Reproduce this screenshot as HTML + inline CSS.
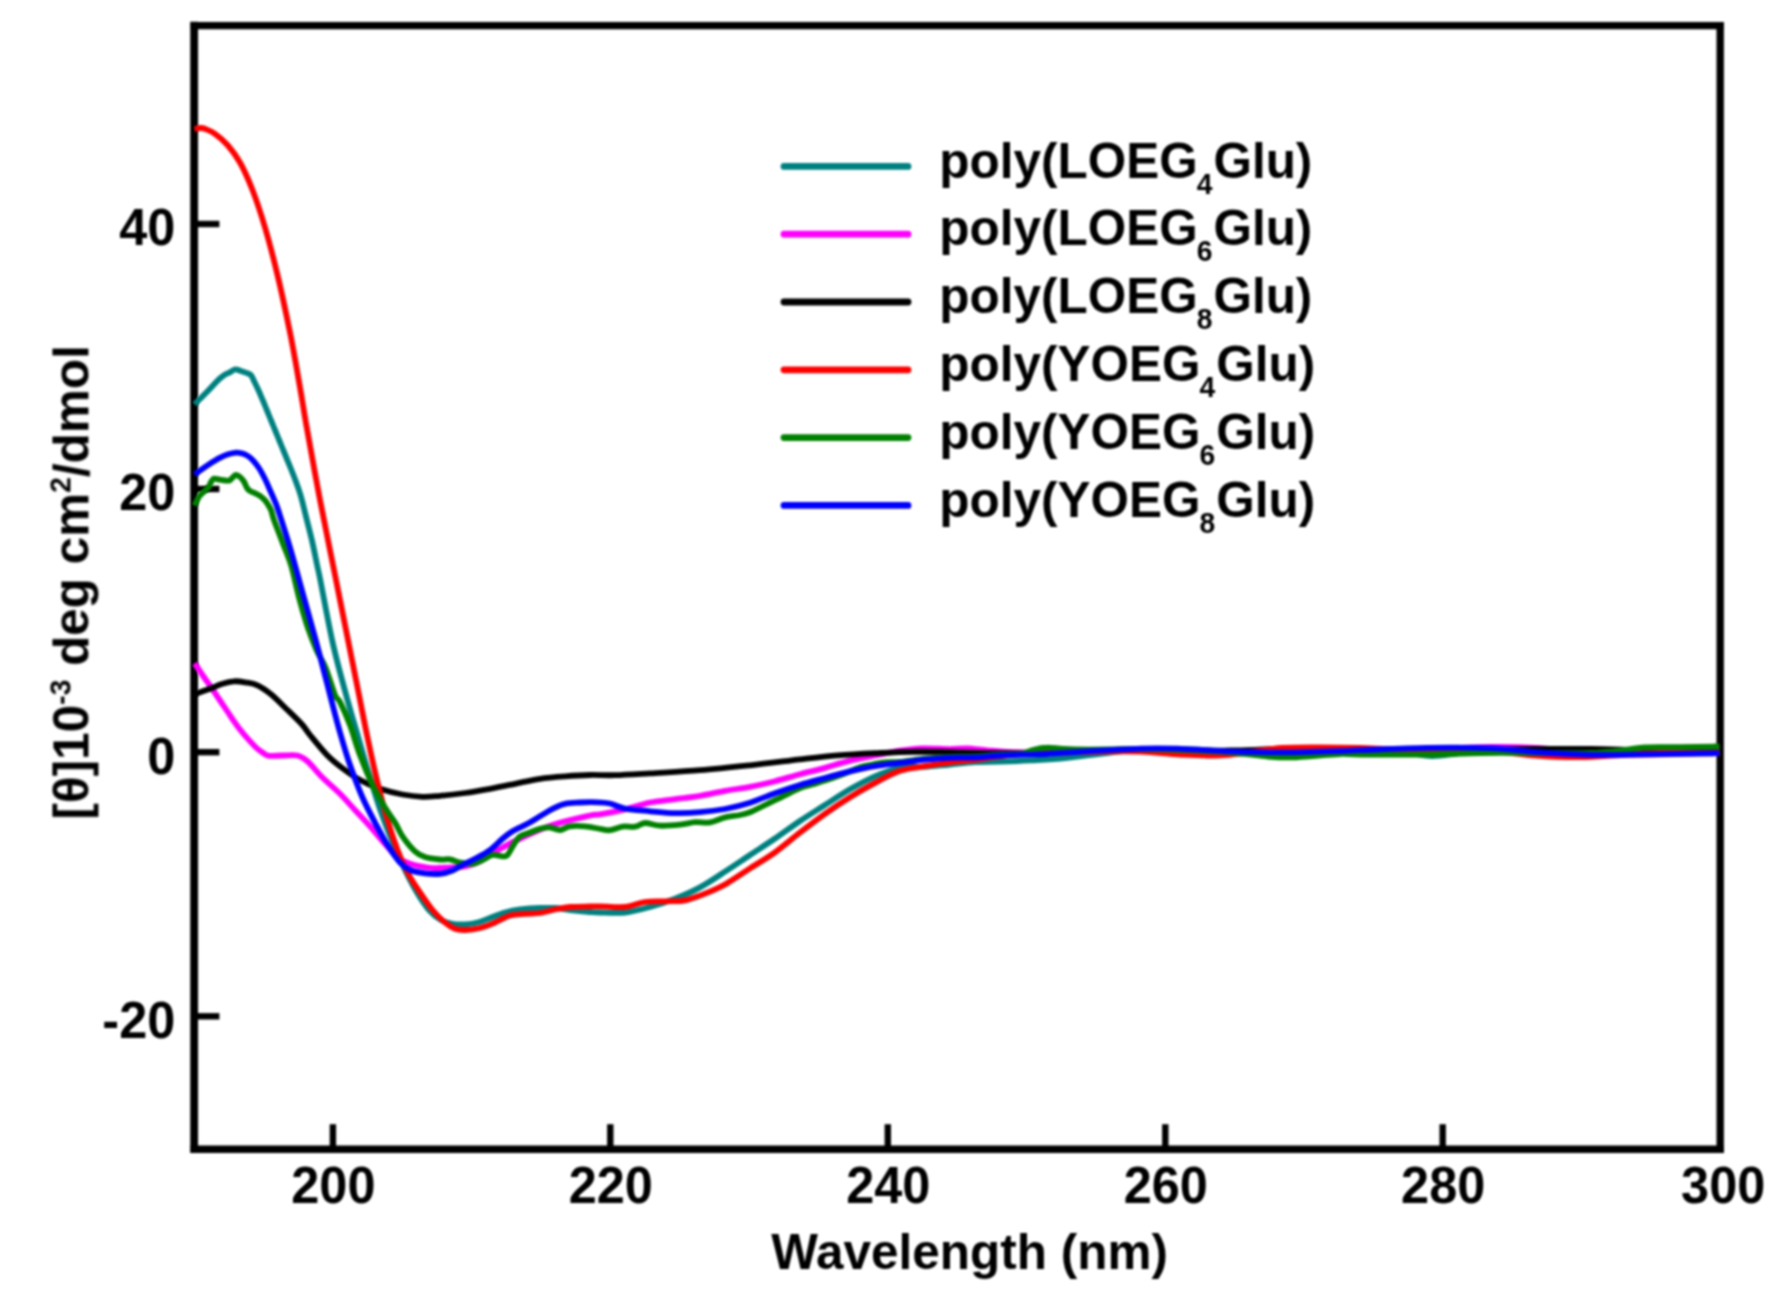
<!DOCTYPE html>
<html lang="en"><head><meta charset="utf-8"><title>CD spectra</title>
<style>
html,body{margin:0;padding:0;background:#fff;}
body{width:1788px;height:1300px;overflow:hidden;}
svg{display:block;}
.bt{filter:blur(1.25px);}
.bc{filter:blur(0.85px);}
text{font-family:"Liberation Sans",sans-serif;font-weight:bold;fill:#000;}
.t{font-size:49px;}
.c{fill:none;stroke-width:5.8;stroke-linejoin:round;stroke-linecap:butt;}
.lg{fill:none;stroke-width:6.8;stroke-linecap:round;}
</style></head><body>
<svg width="1788" height="1300" viewBox="0 0 1788 1300">
<rect x="-10" y="-10" width="1808" height="1320" fill="#fff"/>
<g class="bt">
<g stroke="#000" stroke-linecap="square"><line x1="194.15" y1="25.6" x2="194.15" y2="1149.2" stroke-width="7.8"/><line x1="1720.2" y1="25.6" x2="1720.2" y2="1149.2" stroke-width="7.4"/><line x1="194.15" y1="25.6" x2="1720.2" y2="25.6" stroke-width="7.1"/><line x1="194.15" y1="1149.2" x2="1720.2" y2="1149.2" stroke-width="7.4"/></g>
<g stroke="#000" stroke-width="6.4" stroke-linecap="butt">
<line x1="332.9" y1="1149.2" x2="332.9" y2="1124.2"/>
<line x1="610.3" y1="1149.2" x2="610.3" y2="1124.2"/>
<line x1="887.8" y1="1149.2" x2="887.8" y2="1124.2"/>
<line x1="1165.3" y1="1149.2" x2="1165.3" y2="1124.2"/>
<line x1="1442.7" y1="1149.2" x2="1442.7" y2="1124.2"/>
<line x1="194.15" y1="224.0" x2="219.4" y2="224.0"/>
<line x1="194.15" y1="489.0" x2="219.4" y2="489.0"/>
<line x1="194.15" y1="752.2" x2="219.4" y2="752.2"/>
<line x1="194.15" y1="1016.3" x2="219.4" y2="1016.3"/>
</g>
<text class="t" text-anchor="middle" transform="translate(333.4,1203.2) scale(1.03,1.05)">200</text>
<text class="t" text-anchor="middle" transform="translate(610.8,1203.2) scale(1.03,1.05)">220</text>
<text class="t" text-anchor="middle" transform="translate(888.3,1203.2) scale(1.03,1.05)">240</text>
<text class="t" text-anchor="middle" transform="translate(1165.8,1203.2) scale(1.03,1.05)">260</text>
<text class="t" text-anchor="middle" transform="translate(1443.2,1203.2) scale(1.03,1.05)">280</text>
<text class="t" text-anchor="middle" transform="translate(1723.2,1203.2) scale(1.03,1.05)">300</text>
<text class="t" text-anchor="end" transform="translate(175.3,245.4) scale(1.03,1.05)">40</text>
<text class="t" text-anchor="end" transform="translate(175.3,510.4) scale(1.03,1.05)">20</text>
<text class="t" text-anchor="end" transform="translate(175.3,773.6) scale(1.03,1.05)">0</text>
<text class="t" text-anchor="end" transform="translate(175.3,1037.7) scale(1.03,1.05)">-20</text>
<text class="t" text-anchor="middle" transform="translate(969.5,1268.8) scale(1.01,1.035)">Wavelength (nm)</text>
<text class="t" text-anchor="start" transform="translate(88.0,819.6) rotate(-90) scale(1.01,1.035)">[θ]10<tspan font-size="28" dy="-17">-3</tspan><tspan dy="17"> deg cm</tspan><tspan font-size="28" dy="-17">2</tspan><tspan dy="17">/dmol</tspan></text>
</g>
<g class="bc">
<path class="c" stroke="#008080" d="M194.5,404.3C194.8,404.0 194.0,404.8 196.2,402.6C198.3,400.5 203.7,395.2 207.4,391.4C211.1,387.6 215.8,382.3 218.6,379.6C221.4,376.9 222.2,376.4 224.1,375.2C225.9,374.0 227.8,373.4 229.7,372.4C231.6,371.4 233.4,369.5 235.3,369.3C237.2,369.1 239.0,370.4 240.9,371.0C242.8,371.6 244.8,372.2 246.5,372.9C248.2,373.6 249.7,373.7 251.0,375.2C252.3,376.7 253.2,379.4 254.5,382.0C255.8,384.6 257.2,387.5 258.6,390.5C260.0,393.5 261.3,396.8 262.7,400.0C264.1,403.2 265.4,406.7 266.8,410.0C268.2,413.3 269.5,416.7 270.9,420.0C272.3,423.3 273.6,426.7 275.0,430.0C276.4,433.3 277.7,436.7 279.1,440.0C280.5,443.3 281.8,446.7 283.2,450.0C284.6,453.3 286.1,457.2 287.3,460.0C288.5,462.8 288.9,463.7 290.2,467.0C291.5,470.3 293.6,475.3 295.3,480.0C297.0,484.7 298.9,489.2 300.6,495.2C302.4,501.2 303.9,508.1 305.8,515.8C307.7,523.5 310.3,533.1 312.2,541.5C314.1,549.9 315.9,559.4 317.3,566.0C318.7,572.6 317.9,567.8 320.5,581.0C323.1,594.2 328.7,625.2 333.2,645.0C337.7,664.8 343.3,684.6 347.5,700.0C351.7,715.4 354.8,725.4 358.3,737.5C361.8,749.6 364.8,760.4 368.5,772.5C372.2,784.6 376.2,798.3 380.3,810.0C384.4,821.7 388.7,832.5 392.8,842.5C396.9,852.5 401.0,861.7 405.0,870.0C409.0,878.3 413.0,885.8 417.0,892.5C421.0,899.2 425.0,905.4 429.0,910.0C433.0,914.6 437.1,917.7 441.0,920.0C444.9,922.3 448.5,923.1 452.5,923.8C456.5,924.5 460.8,924.5 465.0,924.3C469.2,924.1 473.3,923.5 477.5,922.5C481.7,921.5 485.4,919.7 490.0,918.0C494.6,916.3 500.0,913.9 505.0,912.5C510.0,911.1 514.2,910.2 520.0,909.5C525.8,908.8 534.2,908.2 540.0,908.0C545.8,907.8 550.0,907.7 555.0,908.0C560.0,908.3 564.2,909.3 570.0,910.0C575.8,910.7 585.0,911.6 590.0,912.0C595.0,912.4 594.2,912.4 600.0,912.5C605.8,912.6 616.7,913.4 625.0,912.5C633.3,911.6 641.7,909.2 650.0,906.9C658.3,904.6 666.7,902.0 675.0,898.8C683.3,895.5 691.7,892.0 700.0,887.4C708.3,882.9 716.7,877.1 725.0,871.6C733.3,866.2 741.7,860.5 750.0,855.0C758.3,849.5 766.7,844.2 775.0,838.5C783.3,832.8 791.7,826.6 800.0,821.0C808.3,815.5 816.7,810.3 825.0,805.0C833.3,799.7 841.7,794.1 850.0,789.3C858.3,784.6 866.7,780.0 875.0,776.4C883.3,772.7 891.7,769.1 900.0,767.5C908.3,765.9 916.7,767.3 925.0,766.8C933.3,766.3 941.7,765.2 950.0,764.5C958.3,763.7 966.7,762.6 975.0,762.1C983.3,761.6 990.8,761.9 1000.0,761.6C1009.2,761.3 1020.0,760.9 1030.0,760.3C1040.0,759.8 1046.7,759.8 1060.0,758.5C1073.3,757.2 1096.5,754.0 1110.0,752.5C1123.5,751.0 1129.2,750.1 1141.0,749.5C1152.8,748.9 1166.0,748.7 1181.0,749.0C1196.0,749.3 1214.2,750.9 1231.0,751.5C1247.8,752.1 1260.5,752.7 1282.0,752.5C1303.5,752.3 1339.5,750.5 1360.0,750.5C1380.5,750.5 1393.0,751.6 1405.0,752.5C1417.0,753.4 1422.5,755.9 1432.0,756.0C1441.5,756.1 1452.0,753.8 1462.0,753.0C1472.0,752.2 1479.7,751.8 1492.0,751.5C1504.3,751.2 1519.7,751.2 1536.0,751.0C1552.3,750.8 1571.8,750.5 1590.0,750.5C1608.2,750.5 1623.4,750.8 1645.0,751.0C1666.6,751.2 1707.1,751.4 1719.5,751.5"/>
<path class="c" stroke="#ff00ff" d="M194.5,663.5C194.8,663.9 195.0,663.8 196.5,666.0C198.0,668.2 201.1,673.0 203.5,676.5C205.9,680.0 208.2,683.0 211.0,687.0C213.8,691.0 217.0,696.1 220.0,700.5C223.0,704.9 226.7,710.4 228.8,713.5C230.9,716.6 230.5,716.3 232.4,719.0C234.3,721.7 237.4,726.2 240.0,729.5C242.6,732.8 245.2,735.9 247.9,738.9C250.6,741.9 253.6,745.2 256.0,747.5C258.4,749.8 260.3,751.1 262.5,752.5C264.7,753.9 265.7,755.3 269.0,755.8C272.3,756.3 277.8,755.5 282.5,755.5C287.2,755.5 293.3,754.5 297.5,755.5C301.7,756.5 303.3,757.6 307.5,761.3C311.7,765.0 317.1,772.1 322.5,777.5C327.9,782.9 334.6,788.4 340.0,793.8C345.4,799.2 350.0,804.6 355.0,810.0C360.0,815.4 365.0,820.7 370.0,826.3C375.0,831.9 380.4,838.6 385.0,843.8C389.6,849.0 393.3,854.2 397.5,857.5C401.7,860.8 405.0,862.1 410.0,863.8C415.0,865.5 422.5,866.8 427.5,867.5C432.5,868.2 433.8,868.2 440.0,868.0C446.2,867.8 458.8,867.2 465.0,866.3C471.2,865.4 471.2,865.6 477.5,862.5C483.8,859.4 495.0,851.7 502.5,847.5C510.0,843.3 514.2,841.2 522.5,837.5C530.8,833.8 541.2,828.7 552.5,825.0C563.8,821.3 582.1,817.3 590.0,815.5C597.9,813.7 594.2,815.4 600.0,814.4C605.8,813.4 616.7,811.2 625.0,809.3C633.3,807.3 641.7,804.2 650.0,802.5C658.3,800.8 666.7,800.2 675.0,799.1C683.3,798.0 691.7,797.2 700.0,795.8C708.3,794.4 716.7,792.3 725.0,790.8C733.3,789.3 741.7,788.5 750.0,786.9C758.3,785.3 766.7,783.3 775.0,781.2C783.3,779.1 791.7,776.4 800.0,774.2C808.3,772.0 816.7,770.2 825.0,767.9C833.3,765.6 841.7,762.6 850.0,760.6C858.3,758.5 866.7,757.2 875.0,755.5C883.3,753.9 892.1,751.9 900.0,750.7C907.9,749.5 914.2,748.6 922.5,748.4C930.8,748.1 942.5,749.1 950.0,749.1C957.5,749.1 961.2,748.1 967.5,748.3C973.8,748.5 980.0,749.7 987.5,750.3C995.0,751.0 1002.6,751.9 1012.5,752.2C1022.4,752.6 1032.4,752.8 1047.0,752.6C1061.6,752.4 1084.3,751.4 1100.0,751.0C1115.7,750.6 1127.5,750.0 1141.0,750.0C1154.5,750.0 1166.0,750.4 1181.0,751.0C1196.0,751.6 1214.2,753.5 1231.0,753.5C1247.8,753.5 1260.5,751.8 1282.0,751.0C1303.5,750.2 1335.8,749.3 1360.0,749.0C1384.2,748.7 1405.0,749.3 1427.0,749.0C1449.0,748.7 1473.8,747.2 1492.0,747.0C1510.2,746.8 1519.7,747.0 1536.0,748.0C1552.3,749.0 1571.8,751.9 1590.0,753.0C1608.2,754.1 1623.4,754.5 1645.0,754.5C1666.6,754.5 1707.1,753.2 1719.5,753.0"/>
<path class="c" stroke="#000000" d="M194.5,694.3C197.1,693.4 205.3,690.5 210.0,688.8C214.7,687.0 218.5,685.0 222.5,683.8C226.5,682.5 230.1,681.5 233.8,681.3C237.6,681.0 241.1,681.6 245.0,682.3C248.9,683.0 253.2,683.3 257.5,685.3C261.8,687.3 266.0,690.2 271.0,694.3C276.0,698.4 282.2,704.9 287.5,710.0C292.8,715.1 298.8,720.8 302.5,725.0C306.2,729.2 305.9,730.0 310.0,735.0C314.1,740.0 321.8,749.6 327.0,755.0C332.2,760.4 336.0,763.3 341.5,767.5C347.0,771.7 353.6,776.5 360.0,780.0C366.4,783.5 372.9,786.4 380.0,788.8C387.1,791.2 395.4,793.2 402.5,794.5C409.6,795.8 416.2,796.6 422.5,796.8C428.8,797.0 432.9,796.4 440.0,795.8C447.1,795.2 456.7,794.2 465.0,793.0C473.3,791.8 481.7,790.3 490.0,788.8C498.3,787.3 506.7,785.5 515.0,783.8C523.3,782.1 531.7,780.0 540.0,778.8C548.3,777.5 556.7,776.9 565.0,776.3C573.3,775.7 581.7,775.2 590.0,775.0C598.3,774.8 605.0,775.5 615.0,775.2C625.0,774.9 635.8,774.2 650.0,773.4C664.2,772.5 683.3,771.5 700.0,770.2C716.7,768.9 733.3,767.1 750.0,765.3C766.7,763.5 785.4,761.1 800.0,759.4C814.6,757.7 825.0,756.4 837.5,755.4C850.0,754.4 862.5,753.8 875.0,753.2C887.5,752.6 900.0,751.9 912.5,751.8C925.0,751.6 935.4,751.9 950.0,752.1C964.6,752.3 983.8,753.0 1000.0,753.1C1016.2,753.3 1030.3,753.5 1047.0,753.0C1063.7,752.6 1084.3,751.1 1100.0,750.5C1115.7,749.9 1127.5,749.6 1141.0,749.5C1154.5,749.4 1166.0,749.8 1181.0,750.0C1196.0,750.2 1214.2,750.7 1231.0,750.5C1247.8,750.3 1263.8,749.2 1282.0,749.0C1300.2,748.8 1320.3,749.3 1340.0,749.5C1359.7,749.7 1381.7,749.9 1400.0,750.0C1418.3,750.1 1434.7,750.1 1450.0,750.0C1465.3,749.9 1477.7,749.7 1492.0,749.5C1506.3,749.3 1519.7,749.1 1536.0,749.0C1552.3,748.9 1571.8,748.8 1590.0,749.0C1608.2,749.2 1623.4,750.0 1645.0,750.5C1666.6,751.0 1707.1,751.8 1719.5,752.0"/>
<path class="c" stroke="#ff0000" d="M194.5,128.8C195.4,128.7 198.2,128.0 200.0,128.0C201.8,128.0 202.5,127.8 205.0,128.8C207.5,129.8 211.2,131.1 215.0,133.8C218.8,136.5 223.3,140.2 227.5,145.0C231.7,149.8 235.8,155.0 240.0,162.5C244.2,170.0 248.3,179.2 252.5,190.0C256.7,200.8 260.8,213.3 265.0,227.5C269.2,241.7 273.3,257.5 277.5,275.0C281.7,292.5 286.2,313.8 290.0,332.5C293.8,351.2 297.3,372.1 300.0,387.5C302.7,402.9 303.0,406.2 306.3,425.0C309.6,443.8 315.2,475.0 320.0,500.0C324.8,525.0 330.0,550.0 335.0,575.0C340.0,600.0 345.8,629.2 350.0,650.0C354.2,670.8 357.1,685.4 360.0,700.0C362.9,714.6 364.6,723.8 367.5,737.5C370.4,751.2 374.2,768.8 377.5,782.5C380.8,796.2 384.2,808.8 387.5,820.0C390.8,831.2 394.2,841.2 397.5,850.0C400.8,858.8 403.8,865.4 407.5,872.5C411.2,879.6 415.8,886.2 420.0,892.5C424.2,898.8 428.3,905.0 432.5,910.0C436.7,915.0 441.2,919.4 445.0,922.5C448.8,925.6 451.7,927.5 455.0,928.8C458.3,930.0 460.8,930.1 465.0,930.0C469.2,929.9 475.0,929.2 480.0,928.0C485.0,926.8 490.0,924.6 495.0,922.5C500.0,920.4 505.0,917.0 510.0,915.5C515.0,914.0 520.0,914.2 525.0,913.8C530.0,913.4 535.0,913.7 540.0,913.0C545.0,912.3 550.0,910.5 555.0,909.5C560.0,908.5 564.2,907.5 570.0,907.0C575.8,906.5 585.0,906.6 590.0,906.5C595.0,906.4 594.2,906.2 600.0,906.3C605.8,906.4 617.5,907.7 625.0,907.0C632.5,906.3 638.3,903.0 645.0,902.0C651.7,901.0 658.3,901.6 665.0,901.3C671.7,901.0 678.3,901.5 685.0,900.3C691.7,899.0 698.3,896.3 705.0,893.6C711.7,891.0 717.5,888.7 725.0,884.5C732.5,880.3 741.7,873.8 750.0,868.4C758.3,863.0 766.7,858.3 775.0,852.3C783.3,846.3 791.7,838.9 800.0,832.5C808.3,826.1 816.7,819.7 825.0,813.8C833.3,807.9 841.7,802.3 850.0,797.2C858.3,792.0 866.7,787.3 875.0,782.9C883.3,778.5 891.7,773.6 900.0,770.8C908.3,768.0 916.7,767.6 925.0,766.2C933.3,764.8 941.7,763.6 950.0,762.5C958.3,761.4 966.7,760.8 975.0,759.8C983.3,758.7 991.7,757.3 1000.0,756.3C1008.3,755.3 1017.2,754.3 1025.0,753.8C1032.8,753.2 1034.5,753.4 1047.0,753.0C1059.5,752.6 1084.3,751.8 1100.0,751.5C1115.7,751.2 1127.5,751.0 1141.0,751.5C1154.5,752.0 1167.7,753.9 1181.0,754.5C1194.3,755.1 1209.5,755.8 1221.0,755.4C1232.5,755.0 1239.8,753.2 1250.0,752.0C1260.2,750.8 1270.3,748.8 1282.0,748.0C1293.7,747.2 1307.0,747.4 1320.0,747.4C1333.0,747.4 1346.7,747.6 1360.0,748.0C1373.3,748.4 1385.0,749.2 1400.0,749.5C1415.0,749.8 1434.7,749.8 1450.0,750.0C1465.3,750.2 1477.7,750.1 1492.0,751.0C1506.3,751.9 1521.3,754.5 1536.0,755.5C1550.7,756.5 1566.0,757.1 1580.0,757.0C1594.0,756.9 1606.7,755.7 1620.0,755.0C1633.3,754.3 1643.4,753.4 1660.0,753.0C1676.6,752.6 1709.6,752.6 1719.5,752.5"/>
<path class="c" stroke="#008000" d="M194.5,505.5C194.7,505.1 194.8,504.8 195.7,503.2C196.5,501.6 198.2,497.8 199.6,495.9C201.0,493.9 202.6,493.0 204.1,491.5C205.6,490.0 207.4,488.7 208.6,487.0C209.8,485.3 210.5,482.8 211.4,481.4C212.3,480.0 212.7,478.9 214.1,478.6C215.5,478.3 217.8,479.4 219.7,479.7C221.6,480.0 223.6,480.4 225.3,480.5C227.0,480.6 228.5,480.9 229.8,480.3C231.1,479.7 232.2,477.8 233.2,476.9C234.2,476.0 234.9,475.0 236.0,475.0C237.1,475.0 238.6,475.8 239.9,476.9C241.2,478.0 242.6,479.5 243.8,481.4C245.0,483.3 246.1,486.5 247.1,488.1C248.1,489.7 248.7,490.1 249.9,490.9C251.1,491.7 252.7,492.1 254.4,492.9C256.1,493.7 258.3,494.8 260.0,495.9C261.7,497.0 263.2,498.4 264.5,499.8C265.8,501.2 266.7,502.5 267.8,504.3C268.9,506.1 270.2,507.9 271.2,510.5C272.2,513.1 272.1,514.7 274.0,520.0C275.9,525.3 279.7,535.0 282.5,542.5C285.3,550.0 288.2,555.8 291.0,565.0C293.8,574.2 296.3,587.5 299.0,597.5C301.7,607.5 304.1,616.2 307.0,625.0C309.9,633.8 313.4,642.9 316.5,650.0C319.6,657.1 322.4,660.0 325.5,667.5C328.6,675.0 332.6,689.2 335.0,695.0C337.4,700.8 337.5,697.0 340.0,702.0C342.5,707.0 346.7,716.2 350.0,725.0C353.3,733.8 356.2,745.0 360.0,755.0C363.8,765.0 368.3,776.2 372.5,785.0C376.7,793.8 381.2,801.2 385.0,807.5C388.8,813.8 392.1,817.7 395.0,822.5C397.9,827.3 399.2,831.5 402.5,836.3C405.8,841.1 411.2,847.8 415.0,851.3C418.8,854.8 420.8,855.6 425.0,857.0C429.2,858.4 435.8,859.1 440.0,859.5C444.2,859.9 446.7,858.8 450.0,859.3C453.3,859.8 456.2,861.8 460.0,862.5C463.8,863.2 468.8,864.2 472.5,863.8C476.2,863.4 479.2,861.5 482.5,860.0C485.8,858.5 489.2,855.6 492.5,855.0C495.8,854.4 500.0,856.3 502.5,856.3C505.0,856.3 505.4,857.3 507.5,855.0C509.6,852.7 512.9,845.6 515.0,842.5C517.1,839.4 517.5,838.0 520.0,836.3C522.5,834.6 526.7,833.8 530.0,832.5C533.3,831.2 536.7,829.6 540.0,828.8C543.3,828.0 546.7,827.3 550.0,827.5C553.3,827.7 556.7,830.2 560.0,830.0C563.3,829.8 565.8,826.9 570.0,826.3C574.2,825.7 580.0,825.9 585.0,826.3C590.0,826.7 595.8,828.2 600.0,828.9C604.2,829.5 606.2,830.6 610.0,830.2C613.8,829.8 618.3,827.2 622.5,826.6C626.7,826.0 631.2,827.3 635.0,826.7C638.8,826.1 640.8,823.2 645.0,823.0C649.2,822.8 654.2,825.4 660.0,825.7C665.8,825.9 674.2,825.2 680.0,824.6C685.8,824.1 690.0,822.6 695.0,822.2C700.0,821.8 705.0,823.1 710.0,822.3C715.0,821.5 720.0,818.6 725.0,817.4C730.0,816.2 735.8,815.9 740.0,815.0C744.2,814.2 746.3,813.7 750.0,812.3C753.7,810.9 757.8,808.5 762.0,806.5C766.2,804.5 770.8,802.2 775.0,800.2C779.2,798.2 782.8,796.4 787.0,794.3C791.2,792.3 795.8,789.7 800.0,788.0C804.2,786.3 807.8,785.6 812.0,784.4C816.2,783.1 820.0,782.1 825.0,780.5C830.0,778.9 836.2,776.7 842.0,774.5C847.8,772.3 855.0,769.0 860.0,767.3C865.0,765.7 867.8,765.4 872.0,764.6C876.2,763.7 880.3,762.8 885.0,762.4C889.7,761.9 893.3,762.5 900.0,761.9C906.7,761.3 916.7,759.5 925.0,758.6C933.3,757.8 941.7,757.1 950.0,756.8C958.3,756.5 966.7,756.9 975.0,756.5C983.3,756.2 992.5,754.9 1000.0,754.5C1007.5,754.1 1015.0,754.4 1020.0,753.9C1025.0,753.3 1027.0,751.9 1030.0,751.0C1033.0,750.2 1035.2,749.3 1038.0,748.8C1040.8,748.2 1043.3,747.6 1047.0,747.6C1050.7,747.5 1055.3,748.3 1060.0,748.7C1064.7,749.0 1066.7,749.4 1075.0,749.5C1083.3,749.7 1099.0,749.6 1110.0,749.5C1121.0,749.4 1129.2,748.9 1141.0,749.0C1152.8,749.1 1166.0,749.4 1181.0,750.0C1196.0,750.6 1216.5,751.4 1231.0,752.5C1245.5,753.6 1258.2,755.7 1268.0,756.5C1277.8,757.3 1282.7,757.5 1290.0,757.4C1297.3,757.3 1303.7,756.6 1312.0,756.0C1320.3,755.4 1331.7,754.2 1340.0,754.0C1348.3,753.8 1347.5,754.4 1362.0,754.5C1376.5,754.6 1407.0,754.8 1427.0,754.5C1447.0,754.2 1463.8,753.2 1482.0,753.0C1500.2,752.8 1518.0,753.0 1536.0,753.0C1554.0,753.0 1575.2,753.5 1590.0,753.0C1604.8,752.5 1615.8,751.0 1625.0,750.0C1634.2,749.0 1635.8,747.8 1645.0,747.3C1654.2,746.8 1667.6,747.2 1680.0,747.1C1692.4,747.0 1712.9,746.6 1719.5,746.5"/>
<path class="c" stroke="#0000ff" d="M194.5,474.4C196.8,472.8 204.4,467.4 208.6,464.6C212.8,461.9 216.4,459.6 219.7,457.9C222.9,456.2 225.4,455.2 228.1,454.3C230.8,453.4 233.7,452.8 236.0,452.6C238.3,452.5 240.2,452.8 242.1,453.4C244.0,453.9 245.8,454.7 247.7,455.9C249.6,457.1 251.4,458.7 253.3,460.7C255.2,462.7 257.0,465.1 258.9,468.0C260.8,470.9 262.6,474.3 264.5,478.0C266.4,481.7 268.4,486.4 270.1,490.3C271.9,494.2 273.6,498.1 275.0,501.5C276.4,504.9 276.0,503.3 278.5,511.0C281.0,518.7 286.0,533.9 290.0,547.5C294.0,561.1 298.3,577.5 302.5,592.5C306.7,607.5 310.8,622.1 315.0,637.5C319.2,652.9 324.8,674.6 327.5,685.0C330.2,695.4 329.2,692.1 331.3,700.0C333.4,707.9 336.9,721.7 340.0,732.5C343.1,743.3 346.2,754.2 350.0,765.0C353.8,775.8 358.3,787.9 362.5,797.5C366.7,807.1 370.8,814.6 375.0,822.5C379.2,830.4 383.3,838.3 387.5,845.0C391.7,851.7 396.2,858.3 400.0,862.5C403.8,866.7 405.8,868.2 410.0,870.0C414.2,871.8 420.0,872.7 425.0,873.3C430.0,873.9 435.4,874.3 440.0,873.8C444.6,873.3 448.3,872.2 452.5,870.5C456.7,868.8 460.8,866.0 465.0,863.8C469.2,861.6 473.3,859.8 477.5,857.5C481.7,855.2 485.8,853.1 490.0,850.0C494.2,846.9 498.8,841.9 502.5,838.8C506.2,835.7 508.3,833.8 512.5,831.3C516.7,828.8 522.9,826.3 527.5,823.8C532.1,821.3 535.8,818.8 540.0,816.3C544.2,813.8 548.3,810.9 552.5,808.8C556.7,806.7 560.4,804.8 565.0,803.8C569.6,802.8 574.6,802.8 580.0,802.5C585.4,802.2 592.5,802.1 597.5,802.3C602.5,802.4 605.4,802.5 610.0,803.5C614.6,804.6 618.3,807.4 625.0,808.6C631.7,809.9 641.7,810.5 650.0,811.3C658.3,812.0 666.7,813.0 675.0,813.1C683.3,813.3 691.7,812.9 700.0,812.2C708.3,811.5 716.7,810.5 725.0,809.0C733.3,807.4 741.7,805.3 750.0,802.7C758.3,800.1 766.7,796.2 775.0,793.2C783.3,790.2 791.7,787.5 800.0,785.0C808.3,782.5 816.7,780.3 825.0,778.0C833.3,775.7 841.7,773.4 850.0,771.4C858.3,769.5 866.7,767.6 875.0,766.2C883.3,764.7 891.7,764.0 900.0,762.9C908.3,761.8 916.7,760.5 925.0,759.6C933.3,758.8 941.7,758.1 950.0,757.8C958.3,757.5 966.7,757.9 975.0,757.5C983.3,757.2 991.7,756.0 1000.0,755.5C1008.3,755.0 1017.2,755.0 1025.0,754.7C1032.8,754.4 1039.4,754.4 1047.0,754.0C1054.6,753.5 1054.8,753.2 1070.5,752.3C1086.2,751.4 1122.6,749.2 1141.0,748.6C1159.4,748.0 1165.9,748.3 1181.0,748.8C1196.1,749.3 1214.7,750.8 1231.5,751.4C1248.3,752.0 1263.9,752.5 1282.0,752.4C1300.1,752.3 1327.0,751.4 1340.0,751.0C1353.0,750.6 1345.5,750.7 1360.0,750.2C1374.5,749.7 1404.9,748.1 1427.0,747.8C1449.1,747.5 1474.5,747.7 1492.7,748.4C1510.9,749.1 1519.7,751.1 1536.0,752.2C1552.3,753.3 1572.6,754.4 1590.8,754.8C1609.0,755.1 1623.5,754.6 1645.0,754.3C1666.5,754.0 1707.1,753.4 1719.5,753.2"/>
</g>
<g class="bt">
<line class="lg" stroke="#008080" x1="784" y1="166.4" x2="908" y2="166.4"/>
<text class="t" text-anchor="start" transform="translate(939.3,177.6) scale(1.01,1.035)">poly(LOEG<tspan font-size="28" dy="15.4" dx="-0.9">4</tspan><tspan dy="-15.4" dx="0.9">Glu)</tspan></text>
<line class="lg" stroke="#ff00ff" x1="784" y1="234.2" x2="908" y2="234.2"/>
<text class="t" text-anchor="start" transform="translate(939.3,245.4) scale(1.01,1.035)">poly(LOEG<tspan font-size="28" dy="15.4" dx="-0.9">6</tspan><tspan dy="-15.4" dx="0.9">Glu)</tspan></text>
<line class="lg" stroke="#000000" x1="784" y1="302.0" x2="908" y2="302.0"/>
<text class="t" text-anchor="start" transform="translate(939.3,313.2) scale(1.01,1.035)">poly(LOEG<tspan font-size="28" dy="15.4" dx="-0.9">8</tspan><tspan dy="-15.4" dx="0.9">Glu)</tspan></text>
<line class="lg" stroke="#ff0000" x1="784" y1="369.8" x2="908" y2="369.8"/>
<text class="t" text-anchor="start" transform="translate(939.3,381.0) scale(1.01,1.035)">poly(YOEG<tspan font-size="28" dy="15.4" dx="-0.9">4</tspan><tspan dy="-15.4" dx="0.9">Glu)</tspan></text>
<line class="lg" stroke="#008000" x1="784" y1="437.6" x2="908" y2="437.6"/>
<text class="t" text-anchor="start" transform="translate(939.3,448.8) scale(1.01,1.035)">poly(YOEG<tspan font-size="28" dy="15.4" dx="-0.9">6</tspan><tspan dy="-15.4" dx="0.9">Glu)</tspan></text>
<line class="lg" stroke="#0000ff" x1="784" y1="505.4" x2="908" y2="505.4"/>
<text class="t" text-anchor="start" transform="translate(939.3,516.6) scale(1.01,1.035)">poly(YOEG<tspan font-size="28" dy="15.4" dx="-0.9">8</tspan><tspan dy="-15.4" dx="0.9">Glu)</tspan></text>
</g>
</svg>
</body></html>
